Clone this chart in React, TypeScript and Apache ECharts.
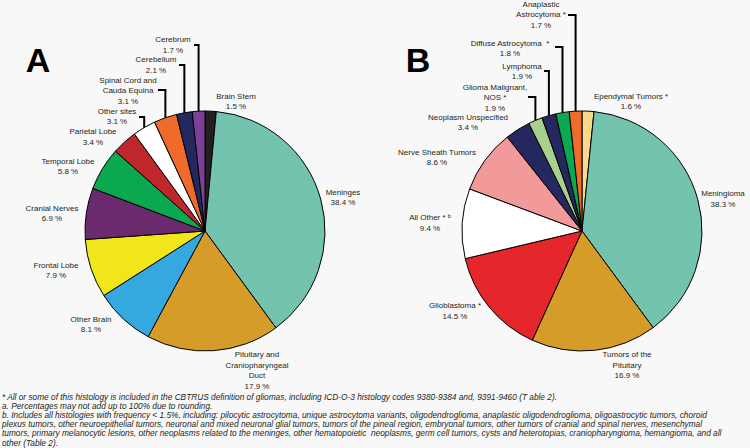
import React, { useEffect, useRef } from 'react';
import * as echarts from 'echarts';

// Panel A: primary site
const siteNames = [
  'Brain Stem', 'Meninges', 'Pituitary and\nCraniopharyngeal\nDuct', 'Other Brain', 'Frontal Lobe',
  'Cranial Nerves', 'Temporal Lobe', 'Parietal Lobe', 'Other sites', 'Spinal Cord and\nCauda Equina',
  'Cerebellum', 'Cerebrum',
];
const siteValues = [1.5, 38.4, 17.9, 8.1, 7.9, 6.9, 5.8, 3.4, 3.1, 3.1, 2.1, 1.7];
const siteColors = [
  '#231f20', '#74c3ae', '#d69c2a', '#35a8e0', '#f0e61a', '#6b2a6e', '#0aa84f', '#c0272d',
  '#ffffff', '#ef6b2a', '#24285e', '#7e3f98',
];

// Panel B: histology
const histNames = [
  'Ependymal Tumors *', 'Meningioma', 'Tumors of the\nPituitary', 'Glioblastoma *', 'All Other * ᵇ',
  'Nerve Sheath Tumors', 'Neoplasm Unspecified', 'Glioma Malignant,\nNOS *', 'Lymphoma',
  'Diffuse Astrocytoma  *', 'Anaplastic\nAstrocytoma *',
];
const histValues = [1.6, 38.3, 16.9, 14.5, 9.4, 8.6, 3.4, 1.9, 1.9, 1.8, 1.7];
const histColors = [
  '#f9d98c', '#74c3ae', '#d69c2a', '#e5262a', '#ffffff', '#f29a9a', '#24285e', '#a8d08d',
  '#24285e', '#0aa84f', '#ef6b2a',
];

const footnotes = [
  '* All or some of this histology is included in the CBTRUS definition of gliomas, including ICD-O-3 histology codes 9380-9384 and, 9391-9460 (T able 2).',
  'a. Percentages may not add up to 100% due to rounding.',
  'b. Includes all histologies with frequency < 1.5%, including: pilocytic astrocytoma, unique astrocytoma variants, oligodendroglioma, anaplastic oligodendroglioma, oligoastrocytic tumors, choroid',
  'plexus tumors, other neuroepithelial tumors, neuronal and mixed neuronal glial tumors, tumors of the pineal region, embryonal tumors, other tumors of cranial and spinal nerves, mesenchymal',
  'tumors, primary melanocytic lesions, other neoplasms related to the meninges, other hematopoietic  neoplasms, germ cell tumors, cysts and heterotopias, craniopharyngioma, hemangioma, and all',
  'other (Table 2).',
];

// Layout (label centres, leader elbows)
const CENTER_A = [205, 231];
const CENTER_B = [582, 231];
const RADIUS = 120;
const siteLabelPos = [
  [236, 101.5], [343, 197.5], [257, 370.5], [91, 324.5], [56, 270.5], [52, 213.5],
  [68, 166.5], [93, 137], [117, 116.5], [128, 90.5], [156, 65], [173, 45],
];
const histLabelPos = [
  [631, 101.5], [723, 199], [627, 365], [455, 311], [430, 223], [437, 157.5],
  [468, 122.5], [495, 97.5], [522, 71.5], [510, 48.5], [541, 14.5],
];
const siteLeaders: [number, number, number][] = [[11, 194, 45], [10, 179, 65], [9, 158, 90], [8, 139, 117]];
const histLeaders: [number, number, number][] = [[10, 568, 15], [9, 555, 47], [8, 544, 71], [7, 528, 97]];

const FONT = "'Liberation Sans', Arial, Helvetica, sans-serif";
const TEXT = '#231f20';

function sliceEdge(values: number[], idx: number, center: number[]) {
  const total = values.reduce((a, b) => a + b, 0);
  let cum = 0;
  for (let i = 0; i < idx; i++) cum += values[i];
  const theta = (2 * Math.PI * (cum + values[idx] / 2)) / total;
  return [center[0] + RADIUS * Math.sin(theta), center[1] - RADIUS * Math.cos(theta)];
}

function leaders(values: number[], list: [number, number, number][], center: number[]) {
  return list.map(([idx, x0, y0]) => {
    const [px, py] = sliceEdge(values, idx, center);
    return {
      type: 'polyline',
      silent: true,
      shape: { points: [[x0, y0], [px, y0], [px, py]] },
      style: { stroke: '#000', lineWidth: 2, fill: null },
      z: 10,
    };
  });
}

function pieSeries(names: string[], values: number[], colors: string[], center: number[], pos: number[][]) {
  return {
    type: 'pie',
    center,
    radius: RADIUS,
    startAngle: 90,
    clockwise: true,
    avoidLabelOverlap: false,
    silent: true,
    itemStyle: { borderColor: '#000', borderWidth: 1 },
    label: {
      show: true,
      position: 'outside',
      formatter: (p: any) => `${p.name}\n${p.value.toFixed(1)} %`,
      fontFamily: FONT,
      fontSize: 8,
      lineHeight: 10.5,
      color: TEXT,
      align: 'center',
    },
    labelLine: { show: false },
    labelLayout: (p: any) => {
      const xy = pos[p.dataIndex];
      return { x: xy[0], y: xy[1], align: 'center', verticalAlign: 'middle' };
    },
    data: names.map((n, i) => ({ name: n, value: values[i], itemStyle: { color: colors[i] } })),
  };
}

export default function App() {
  const ref = useRef<HTMLDivElement>(null);
  useEffect(() => {
    if (!ref.current) return;
    const chart = echarts.init(ref.current, null, { renderer: 'svg' });
    chart.setOption({
      animation: false,
      backgroundColor: '#f8f8f8',
      series: [
        pieSeries(siteNames, siteValues, siteColors, CENTER_A, siteLabelPos),
        pieSeries(histNames, histValues, histColors, CENTER_B, histLabelPos),
      ],
      graphic: [
        { type: 'text', x: 38, y: 60, style: { text: 'A', font: `bold 34px ${FONT}`, fill: '#000', align: 'center', verticalAlign: 'middle' } },
        { type: 'text', x: 418, y: 60, style: { text: 'B', font: `bold 34px ${FONT}`, fill: '#000', align: 'center', verticalAlign: 'middle' } },
        ...leaders(siteValues, siteLeaders, CENTER_A),
        ...leaders(histValues, histLeaders, CENTER_B),
        ...footnotes.map((t, i) => ({
          type: 'text',
          x: 2,
          y: 396.5 + i * 9.2,
          style: { text: t, font: `italic 8.3px ${FONT}`, fill: TEXT, align: 'left', verticalAlign: 'middle' },
        })),
      ],
    });
    return () => chart.dispose();
  }, []);
  return <div ref={ref} style={{ position: 'fixed', left: 0, top: 0, width: 750, height: 448 }} />;
}
